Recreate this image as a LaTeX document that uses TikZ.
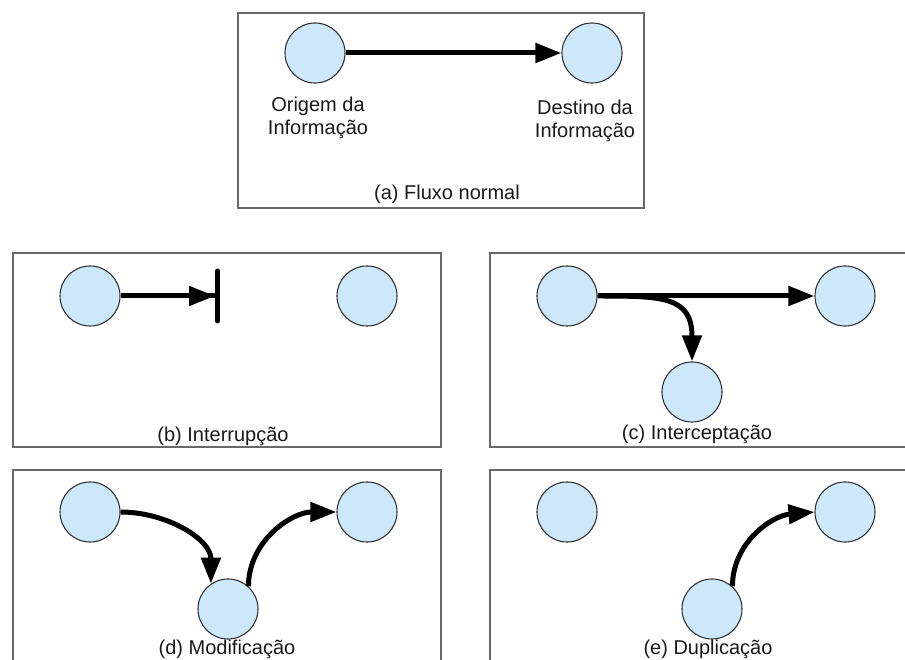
\documentclass[tikz,border=0pt]{standalone}
\usepackage{fontspec}
\setmainfont{Liberation Sans}
\usepackage{tikz}
\usetikzlibrary{arrows.meta}
\definecolor{nodefill}{RGB}{204,232,250}
\definecolor{framegray}{RGB}{105,105,105}

\begin{document}
\begin{tikzpicture}[
    x=1pt,y=1pt,
    host/.style={
        circle,
        draw=black!80,
        line width=1.1pt,
        fill=nodefill,
        minimum size=60pt,
        inner sep=0pt
    },
    frame/.style={
        draw=framegray,
        line width=1.4pt
    },
    flow/.style={
        line width=5pt,
        -{Triangle[length=26pt,width=19pt]}
    },
    cut/.style={
        line width=5pt,
        -{Triangle[length=26pt,width=19pt]Bar[width=50pt,line cap=round]}
    },
    txt/.style={
        font=\fontsize{20}{23}\selectfont,
        text=black!90,
        align=center,
        inner sep=0pt
    }
    ]
    \useasboundingbox (0,0) rectangle (905,659);
    \clip (0,0) rectangle (905,659);
    % (a) normal flow
    \draw[frame] (238,451) rectangle (644,646);
    \node[host] (a1) at (315,606) {};
    \node[host] (a2) at (592,606) {};
    \node[txt] (a1txt) at (318,541) {Origem da\\Informação};
    \node[txt] (a2txt) at (585,538) {Destino da\\Informação};
    \node[txt] (acap) at (447,465) {(a) Fluxo normal};
    \draw[flow] (a1) -- (a2);
    % (b)
    \draw[frame] (13,212) rectangle (441,406);
    \node[host] (b1) at (90,363) {};
    \node[host] (b2) at (367,363) {};
    \coordinate (bstop) at (220,363);
    \node[txt] (bcap) at (223,223) {(b) Interrupção};
    \draw[cut] (b1) -- (bstop);
    % (c)
    \draw[frame] (490,212) rectangle (920,406);
    \node[host] (c1) at (567,363) {};
    \node[host] (c2) at (845,363) {};
    \node[host] (c3) at (692,267) {};
    \node[txt] (ccap) at (697,225) {(c) Interceptação};
    \draw[flow] (c1) -- (c2);
    \draw[flow] (c1.east) to[out=0,in=90,looseness=1.45] (c3.north);
    % (d)
    \draw[frame] (13,-10) rectangle (441,189);
    \node[host] (d1) at (90,147) {};
    \node[host] (d2) at (367,147) {};
    \node[host] (d3) at (228,50) {};
    \node[txt] (dcap) at (227,10) {(d) Modificação};
    \draw[flow] (d1.east) to[out=0,in=90] (d3.124);
    \draw[flow] (d3.48) to[out=90,in=180] (d2.west);
    % (e)
    \draw[frame] (490,-10) rectangle (920,189);
    \node[host] (e1) at (567,147) {};
    \node[host] (e2) at (845,147) {};
    \node[host] (e3) at (712,50) {};
    \node[txt] (ecap) at (708,10) {(e) Duplicação};
    \draw[flow] (e3.48) to[out=90,in=185] (e2.west);
\end{tikzpicture}
\end{document}
